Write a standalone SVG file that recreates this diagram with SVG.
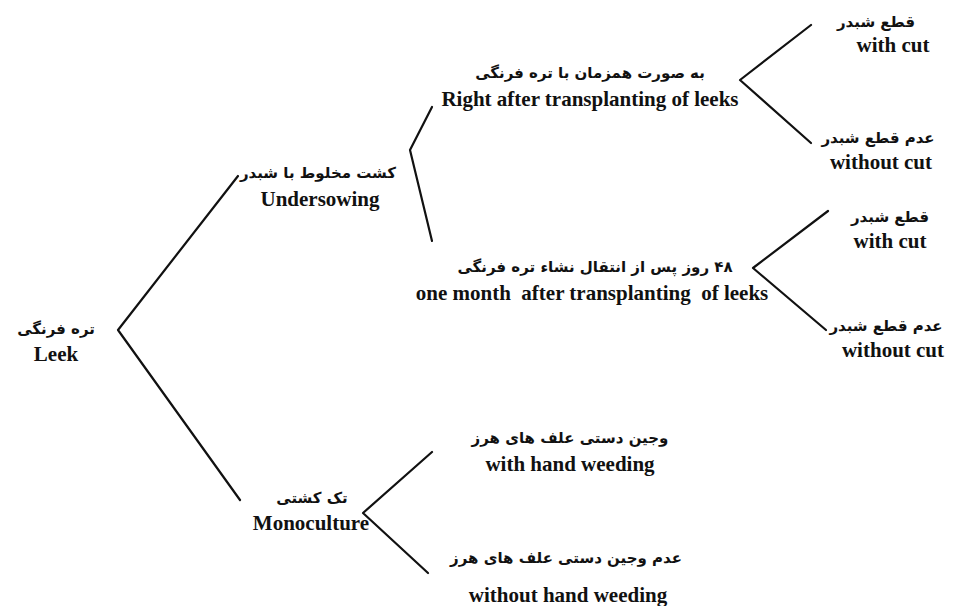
<svg xmlns="http://www.w3.org/2000/svg" width="962" height="606" viewBox="0 0 962 606">
<style>
.en{font-family:"Liberation Serif","Times New Roman",serif;font-weight:bold;font-size:21px;fill:#111;text-anchor:middle}
.fa{font-family:"DejaVu Sans","Noto Sans",sans-serif;font-weight:bold;font-size:15px;fill:#111;text-anchor:middle}
.ln{fill:none;stroke:#111;stroke-width:2.2;stroke-linejoin:round;stroke-linecap:round}
</style>
<rect width="962" height="606" fill="#fff"/>
<g id="connectors">
<polyline class="ln" points="238,176 118,330 240,500"/>
<polyline class="ln" points="432,107 410,150 432,241"/>
<polyline class="ln" points="811,25 740,80 811,143"/>
<polyline class="ln" points="828,211 753,268 826,330"/>
<polyline class="ln" points="432,452 363,513 428,573"/>
</g>
<g id="leek"><text class="fa" x="56" y="334" direction="rtl">تره فرنگی</text><text class="en" x="56" y="361">Leek</text></g>
<g id="undersowing"><text class="fa" x="318" y="178" direction="rtl">کشت مخلوط با شبدر</text><text class="en" x="320" y="206">Undersowing</text></g>
<g id="right-after"><text class="fa" x="590" y="78" direction="rtl">به صورت همزمان با تره فرنگی</text><text class="en" x="590" y="106">Right after transplanting of leeks</text></g>
<g id="cut1"><text class="fa" x="876" y="27" direction="rtl">قطع شبدر</text><text class="en" x="893" y="52">with cut</text></g>
<g id="nocut1"><text class="fa" x="878" y="143" direction="rtl">عدم قطع شبدر</text><text class="en" x="881" y="169">without cut</text></g>
<g id="one-month"><text class="fa" x="595" y="272" direction="rtl">۴۸ روز پس از انتقال نشاء تره فرنگی</text><text class="en" x="592" y="300" xml:space="preserve">one month  after transplanting  of leeks</text></g>
<g id="cut2"><text class="fa" x="890" y="222" direction="rtl">قطع شبدر</text><text class="en" x="890" y="248">with cut</text></g>
<g id="nocut2"><text class="fa" x="886" y="331" direction="rtl">عدم قطع شبدر</text><text class="en" x="893" y="357">without cut</text></g>
<g id="hand-weeding"><text class="fa" x="570" y="443" direction="rtl">وجین دستی علف های هرز</text><text class="en" x="570" y="471">with hand weeding</text></g>
<g id="monoculture"><text class="fa" x="312" y="503" direction="rtl">تک کشتی</text><text class="en" x="311" y="530">Monoculture</text></g>
<g id="no-weeding"><text class="fa" x="566" y="563" direction="rtl">عدم وجین دستی علف های هرز</text><text class="en" x="568" y="602">without hand weeding</text></g>
</svg>
